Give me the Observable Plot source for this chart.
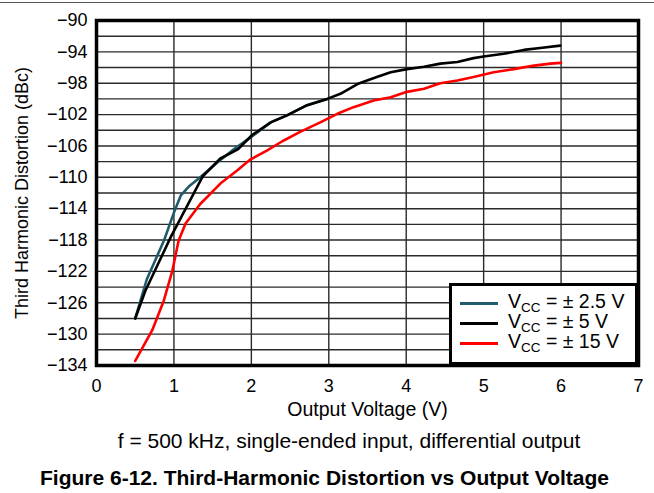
<!DOCTYPE html>
<html>
<head>
<meta charset="utf-8">
<script src="https://cdn.jsdelivr.net/npm/d3@7"></script>
<script src="https://cdn.jsdelivr.net/npm/@observablehq/plot@0.6"></script>
<style>
  body { margin: 0; background: #fff; }
  #wrap { position: relative; width: 654px; height: 493px; font-family: "Liberation Sans", Arial, sans-serif; color: #000; overflow: hidden; }
  #rule { position: absolute; left: 0; top: 2px; width: 654px; border-top: 1px solid #555; }
  #chart { position: absolute; left: 0; top: 0; }
  #chart g[aria-label="x-axis label"] { font-size: 19.5px; }
  #chart g[aria-label="y-axis label"] { font-size: 18px; }
  #legend { position: absolute; left: 449px; top: 283px; width: 189px; height: 82px; box-sizing: border-box; border: 3px solid #000; background: #fff; }
  .row { position: absolute; left: 0; width: 183px; height: 20px; }
  .sw { position: absolute; left: 8px; width: 38px; height: 3px; }
  .lt { position: absolute; left: 56px; font-size: 19.5px; line-height: 19.5px; white-space: nowrap; }
  .lt .sub { font-size: 13.5px; position: relative; top: 4px; }
  #caption { position: absolute; left: 0; width: 698px; top: 430px; text-align: center; font-size: 21px; line-height: 21px; white-space: nowrap; }
  #title { position: absolute; left: 0; width: 649px; top: 467px; text-align: center; font-size: 21px; line-height: 21px; font-weight: bold; white-space: nowrap; }
</style>
</head>
<body>
<div id="wrap">
  <div id="rule"></div>
  <div id="chart"></div>
  <div id="legend"></div>
  <div id="caption"></div>
  <div id="title"></div>
</div>
<script>
// ---- data ----
const xTicks = [0, 1, 2, 3, 4, 5, 6, 7];
const yTicks = [-90, -94, -98, -102, -106, -110, -114, -118, -122, -126, -130, -134];
const yGrid = [-134, -132, -130, -128, -126, -124, -122, -120, -118, -116, -114, -112, -110, -108, -106, -104, -102, -100, -98, -96, -94, -92, -90];

const seriesNames = ["\u00b1 2.5 V", "\u00b1 5 V", "\u00b1 15 V"];
const seriesColors = ["#1f5b6b", "#000000", "#ff0000"];

const vcc25X = [0.50, 0.65, 0.87, 1.00, 1.09, 1.20, 1.34, 1.56, 1.75, 1.99, 2.25, 2.46, 2.72, 2.98];
const vcc25Y = [-128.0, -123.0, -118.1, -114.5, -112.3, -111.1, -110.0, -108.1, -106.6, -104.9, -103.0, -102.1, -100.8, -100.0];

const vcc5X = [0.50, 0.63, 0.96, 1.37, 1.60, 1.83, 2.01, 2.25, 2.46, 2.72, 2.98, 3.15, 3.37, 3.62, 3.80, 4.01, 4.23, 4.44, 4.66, 4.87, 5.00, 5.26, 5.52, 5.73, 5.99];
const vcc5Y = [-128.0, -124.5, -117.6, -109.9, -107.6, -106.4, -104.6, -103.0, -102.1, -100.8, -100.0, -99.35, -98.1, -97.2, -96.6, -96.2, -95.9, -95.5, -95.3, -94.8, -94.6, -94.25, -93.75, -93.5, -93.2];

const vcc15X = [0.50, 0.72, 0.87, 0.98, 1.06, 1.15, 1.34, 1.60, 1.82, 1.99, 2.20, 2.40, 2.63, 2.89, 3.11, 3.32, 3.58, 3.80, 4.01, 4.23, 4.44, 4.66, 4.87, 5.13, 5.39, 5.65, 5.86, 6.00];
const vcc15Y = [-133.4, -129.5, -125.7, -121.9, -118.1, -115.9, -113.4, -110.8, -109.1, -107.7, -106.6, -105.4, -104.2, -103.0, -101.9, -101.05, -100.2, -99.8, -99.1, -98.7, -98.0, -97.65, -97.2, -96.6, -96.2, -95.75, -95.5, -95.4];

const xLabel = "Output Voltage (V)";
const yLabel = "Third Harmonic Distortion (dBc)";
const captionText = "f = 500 kHz, single-ended input, differential output";
const titleText = "Figure 6-12. Third-Harmonic Distortion vs Output Voltage";

// ---- build ----
const toRows = (xs, ys) => xs.map((x, i) => ({x, y: ys[i]}));
const lines = [toRows(vcc25X, vcc25Y), toRows(vcc5X, vcc5Y), toRows(vcc15X, vcc15Y)];

const chart = Plot.plot({
  width: 654,
  height: 420,
  marginLeft: 96,
  marginRight: 16,
  marginTop: 20,
  marginBottom: 55,
  style: {fontFamily: "'Liberation Sans', Arial, sans-serif", fontSize: "18px", color: "#000", background: "transparent", overflow: "visible"},
  x: {domain: [0, 7], ticks: xTicks, tickSize: 0, tickPadding: 14, tickFormat: d => String(d), label: xLabel, labelAnchor: "center", labelOffset: 50, labelArrow: "none"},
  y: {domain: [-134, -90], ticks: yTicks, tickSize: 0, tickPadding: 9, label: yLabel, labelAnchor: "center", labelOffset: 81, labelArrow: "none"},
  marks: [
    Plot.ruleY(yGrid, {stroke: "#2a2a2a", strokeWidth: 1.4}),
    Plot.ruleX(xTicks, {stroke: "#2a2a2a", strokeWidth: 1.4}),
    Plot.line(lines[0], {x: "x", y: "y", stroke: seriesColors[0], strokeWidth: 2.6, strokeLinejoin: "round"}),
    Plot.line(lines[1], {x: "x", y: "y", stroke: seriesColors[1], strokeWidth: 2.6, strokeLinejoin: "round"}),
    Plot.line(lines[2], {x: "x", y: "y", stroke: seriesColors[2], strokeWidth: 2.6, strokeLinejoin: "round"}),
    Plot.frame({stroke: "#000", strokeWidth: 3.5})
  ]
});
document.getElementById("chart").appendChild(chart);

// legend
const legend = d3.select("#legend");
seriesNames.forEach((name, i) => {
  const row = legend.append("div").attr("class", "row").style("top", (i * 20) + "px");
  row.append("div").attr("class", "sw").style("top", (17 - 1.5) + "px").style("background", seriesColors[i]);
  const t = row.append("div").attr("class", "lt").style("top", "6px");
  t.append("span").text("V");
  t.append("span").attr("class", "sub").text("CC");
  t.append("span").text(" = " + name);
});

document.getElementById("caption").textContent = captionText;
document.getElementById("title").textContent = titleText;
</script>
</body>
</html>
